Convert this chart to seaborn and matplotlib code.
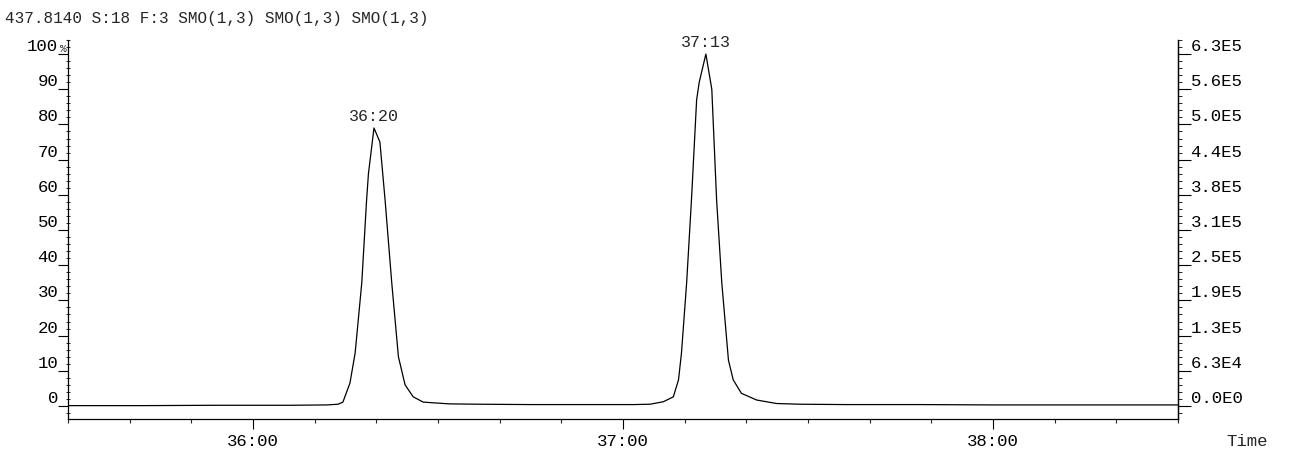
import matplotlib
matplotlib.use("Agg")
import matplotlib.pyplot as plt
import seaborn as sns
import pandas as pd
from matplotlib.ticker import MultipleLocator, FixedLocator

# chromatogram trace (time in minutes, intensity in %)
time_min = [35.50, 35.70, 35.90, 36.10, 36.20, 36.230, 36.243, 36.262, 36.276,
            36.294, 36.307, 36.312, 36.327, 36.343, 36.357, 36.375, 36.393,
            36.411, 36.433, 36.460, 36.530, 36.610, 36.750, 36.900, 37.030,
            37.073, 37.109, 37.136, 37.150, 37.158, 37.172, 37.185, 37.199,
            37.206, 37.224, 37.240, 37.253, 37.267, 37.285, 37.298, 37.320,
            37.361, 37.415, 37.478, 37.600, 37.800, 38.000, 38.200, 38.400, 38.500]
intensity = [0.1, 0.1, 0.2, 0.2, 0.3, 0.5, 1.1, 6.5, 15.0,
             35.0, 58.5, 66.0, 79.0, 75.0, 58.5, 35.0, 14.0,
             6.0, 2.6, 1.1, 0.6, 0.5, 0.4, 0.4, 0.4,
             0.5, 1.2, 2.6, 7.4, 15.0, 35.0, 58.5, 87.0,
             92.0, 100.0, 90.0, 58.5, 35.0, 13.0, 7.4, 3.6,
             1.7, 0.7, 0.5, 0.4, 0.4, 0.3, 0.3, 0.3, 0.3]

peak_times = [36.327, 37.224]
peak_heights = [79.0, 100.0]
peak_labels = ["36:20", "37:13"]

x_ticks = [36, 37, 38]
x_tick_labels = ["36:00", "37:00", "38:00"]
left_ticks = [0, 10, 20, 30, 40, 50, 60, 70, 80, 90, 100]
left_labels = ["0", "10", "20", "30", "40", "50", "60", "70", "80", "90", "100"]
right_labels = ["0.0E0", "6.3E4", "1.3E5", "1.9E5", "2.5E5", "3.1E5",
                "3.8E5", "4.4E5", "5.0E5", "5.6E5", "6.3E5"]

title = "437.8140 S:18 F:3 SMO(1,3) SMO(1,3) SMO(1,3)"

sns.set_style("white")
plt.rcParams['font.family'] = ['Liberation Mono', 'DejaVu Sans Mono']
plt.rcParams['font.size'] = 11.5

df = pd.DataFrame({"time": time_min, "intensity": intensity})

fig = plt.figure(figsize=(13.11, 4.54), dpi=100)
ax = fig.add_axes([68 / 1311, 35 / 454, 1110 / 1311, 379 / 454])

sns.lineplot(data=df, x="time", y="intensity", color="black", linewidth=0.9,
             estimator=None, ax=ax)

ax.set_xlim(35.5, 38.5)
ax.set_ylim(-3.7, 104)
ax.set_xlabel("")
ax.set_ylabel("")

for side in ["left", "right", "bottom"]:
    ax.spines[side].set_visible(True)
    ax.spines[side].set_color("black")
    ax.spines[side].set_linewidth(0.9)
ax.spines["top"].set_visible(False)

# x axis: minutes with 10 s minor ticks
ax.xaxis.set_major_locator(FixedLocator(x_ticks))
ax.set_xticklabels(x_tick_labels)
ax.xaxis.set_minor_locator(MultipleLocator(1 / 6))
ax.tick_params(axis="x", which="major", direction="out", length=7, width=0.8,
               pad=4, bottom=True, colors="black", labelsize=12.5)
ax.tick_params(axis="x", which="minor", direction="out", length=3, width=0.8,
               bottom=True)

# left axis: relative %
ax.yaxis.set_major_locator(FixedLocator(left_ticks))
ax.set_yticklabels(left_labels)
ax.yaxis.set_minor_locator(MultipleLocator(2))
ax.tick_params(axis="y", which="major", direction="out", length=7, width=0.8,
               pad=0, left=True, colors="black", labelsize=12.5)
ax.tick_params(axis="y", which="minor", direction="inout", length=3, width=0.7,
               left=True)
for lab in ax.get_yticklabels():
    lab.set_verticalalignment("bottom")
ax.text(-0.001, 100, "%", transform=ax.get_yaxis_transform(), ha="right",
        va="bottom", fontsize=8)

# right axis: absolute counts
ax2 = ax.twinx()
ax2.set_ylim(ax.get_ylim())
ax2.yaxis.set_major_locator(FixedLocator(left_ticks))
ax2.set_yticklabels(right_labels)
ax2.yaxis.set_minor_locator(MultipleLocator(2))
ax2.tick_params(axis="y", which="major", direction="out", length=9, width=0.8,
                pad=0, right=True, colors="black", labelsize=12.5)
ax2.tick_params(axis="y", which="minor", direction="out", length=3, width=0.7,
                right=True)
for lab in ax2.get_yticklabels():
    lab.set_verticalalignment("bottom")
for side in ["left", "top", "bottom"]:
    ax2.spines[side].set_visible(False)
ax2.spines["right"].set_color("black")
ax2.spines["right"].set_linewidth(0.9)

# peak apex labels
for t, h, lab in zip(peak_times, peak_heights, peak_labels):
    ax.annotate(lab, xy=(t, h), xytext=(0, 3), textcoords="offset points",
                ha="center", va="bottom", fontsize=12)

fig.text(5 / 1311, 1 - 18 / 454, title, ha="left", va="center")
fig.text(1247 / 1311, 1 - 441 / 454, "Time", ha="center", va="center",
         fontsize=12.5)

fig.savefig("out.png", dpi=100)
